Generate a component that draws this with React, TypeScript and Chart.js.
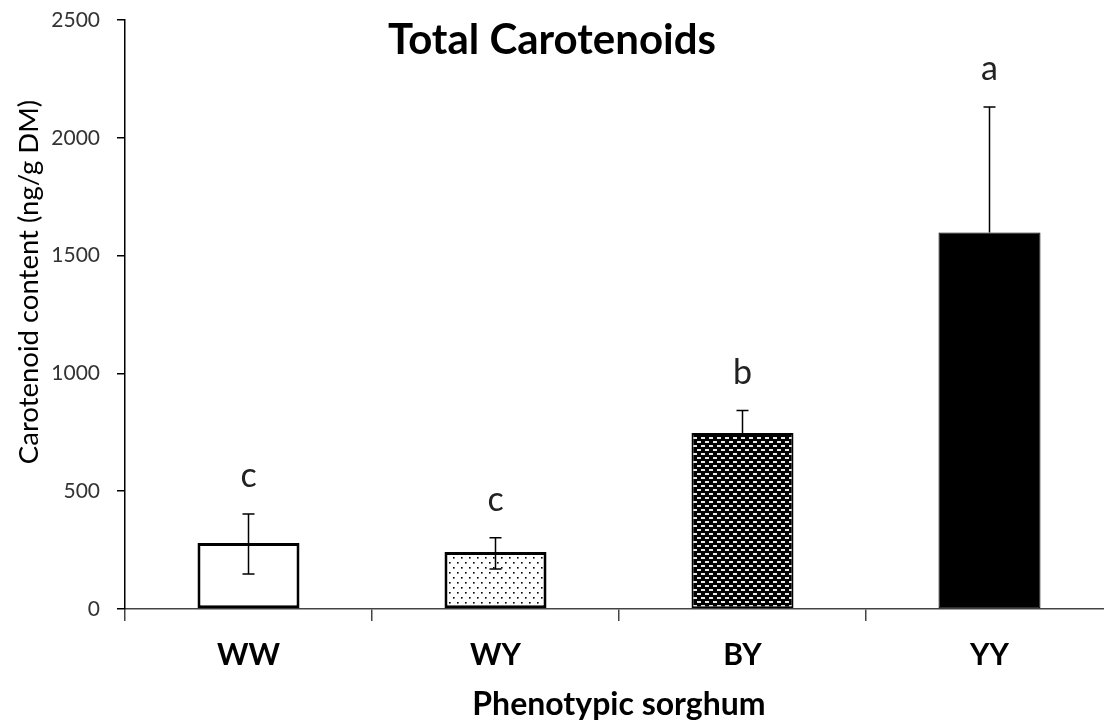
import React, { useEffect, useRef } from "react";
import { Chart, registerables } from "chart.js";

Chart.register(...registerables);

const TITLE = "Total Carotenoids";
const X_TITLE = "Phenotypic sorghum";
const Y_TITLE = "Carotenoid content (ng/g DM)";

const categories = ["WW", "WY", "BY", "YY"];
const means = [280, 242, 747, 1598];
const errPlus = [123, 60, 95, 533];
const errMinus: (number | null)[] = [131, 72, null, null];
const letters = ["c", "c", "b", "a"];
const yTicks = [0, 500, 1000, 1500, 2000, 2500];

const FONT = "Lato, 'Open Sans', sans-serif";

function makeDots(): CanvasPattern | string {
  const c = document.createElement("canvas");
  c.width = 8;
  c.height = 10;
  const g = c.getContext("2d")!;
  g.fillStyle = "#fff";
  g.fillRect(0, 0, 8, 10);
  g.fillStyle = "#000";
  g.fillRect(1, 2, 1.6, 1.6);
  g.fillRect(5, 7, 1.6, 1.6);
  return g.createPattern(c, "repeat") || "#ddd";
}

function makeBricks(): CanvasPattern | string {
  const c = document.createElement("canvas");
  c.width = 8;
  c.height = 8;
  const g = c.getContext("2d")!;
  g.fillStyle = "#000";
  g.fillRect(0, 0, 8, 8);
  g.fillStyle = "#e8e8e8";
  g.fillRect(1, 1, 4, 2);
  g.fillRect(5, 5, 3, 2);
  g.fillRect(0, 5, 1, 2);
  return g.createPattern(c, "repeat") || "#333";
}

const annotate = {
  id: "annotate",
  afterDatasetsDraw(chart: any) {
    const ctx: CanvasRenderingContext2D = chart.ctx;
    const ys = chart.scales.y;
    const meta = chart.getDatasetMeta(0);
    ctx.save();
    meta.data.forEach((bar: any, i: number) => {
      const x = bar.x;
      const m = means[i];
      const hi = ys.getPixelForValue(m + errPlus[i]);
      const lowVal = errMinus[i];
      const lo = lowVal == null ? ys.getPixelForValue(m) : ys.getPixelForValue(m - lowVal);
      ctx.strokeStyle = "#000";
      ctx.lineWidth = 1.5;
      ctx.beginPath();
      ctx.moveTo(x, lo);
      ctx.lineTo(x, hi);
      ctx.moveTo(x - 6, hi);
      ctx.lineTo(x + 6, hi);
      if (lowVal != null) {
        ctx.moveTo(x - 6, lo);
        ctx.lineTo(x + 6, lo);
      }
      ctx.stroke();
      ctx.font = `34px ${FONT}`;
      ctx.textAlign = "center";
      ctx.textBaseline = "alphabetic";
      ctx.fillStyle = "#222";
      ctx.fillText(letters[i], x, hi - 27);
    });
    // chart title
    ctx.font = `bold 42px ${FONT}`;
    ctx.fillStyle = "#000";
    ctx.textAlign = "center";
    ctx.textBaseline = "alphabetic";
    ctx.fillText(TITLE, 552, 54);
    // y axis title
    ctx.translate(29, 282);
    ctx.rotate(-Math.PI / 2);
    ctx.font = `27.5px ${FONT}`;
    ctx.textBaseline = "middle";
    ctx.fillText(Y_TITLE, 0, 0);
    ctx.restore();
  },
};

export default function App() {
  const ref = useRef<HTMLCanvasElement | null>(null);
  useEffect(() => {
    if (!ref.current) return;
    const chart = new Chart(ref.current, {
      type: "bar",
      data: {
        labels: categories,
        datasets: [
          {
            data: means,
            backgroundColor: ["#fff", makeDots(), makeBricks(), "#000"] as any,
            borderColor: "#000",
            borderWidth: [3, 3, 2, 1] as any,
            borderSkipped: false,
            categoryPercentage: 1,
            barPercentage: 0.413,
          },
        ],
      },
      plugins: [annotate],
      options: {
        animation: false,
        responsive: false,
        layout: { padding: { top: 20, left: 0, right: 0, bottom: 0 } },
        plugins: { legend: { display: false }, tooltip: { enabled: false }, title: { display: false } },
        scales: {
          x: {
            grid: { offset: true, drawOnChartArea: false, drawTicks: true, tickLength: 12, color: "#444", lineWidth: 1.5 },
            border: { display: true, color: "#444", width: 1.5 },
            ticks: { color: "#000", font: { family: FONT, size: 30, weight: "bold" }, padding: 16 },
            title: { display: true, text: X_TITLE, color: "#000", font: { family: FONT, size: 32, weight: "bold", lineHeight: 1.0 }, padding: { top: 0, bottom: 0 } },
            afterFit: (s: any) => { s.height = 112; },
          },
          y: {
            min: 0,
            max: 2500,
            afterBuildTicks: (s: any) => { s.ticks = yTicks.map((v) => ({ value: v })); },
            grid: { drawOnChartArea: false, drawTicks: true, tickLength: 8, color: "#000", lineWidth: 1.5 },
            border: { display: true, color: "#000", width: 1.5 },
            ticks: { color: "#333", font: { family: FONT, size: 21 }, padding: 17, callback: (v: any) => String(v) },
            afterFit: (s: any) => { s.width = 125; s.paddingTop = 0; s.paddingBottom = 0; },
          },
        },
      } as any,
    });
    return () => chart.destroy();
  }, []);
  return (
    <div style={{ position: "fixed", left: 0, top: 0, width: 1104, height: 721, overflow: "hidden", background: "#fff" }}>
      <canvas ref={ref} width={1113} height={721} style={{ width: 1113, height: 721, display: "block" }} />
    </div>
  );
}
